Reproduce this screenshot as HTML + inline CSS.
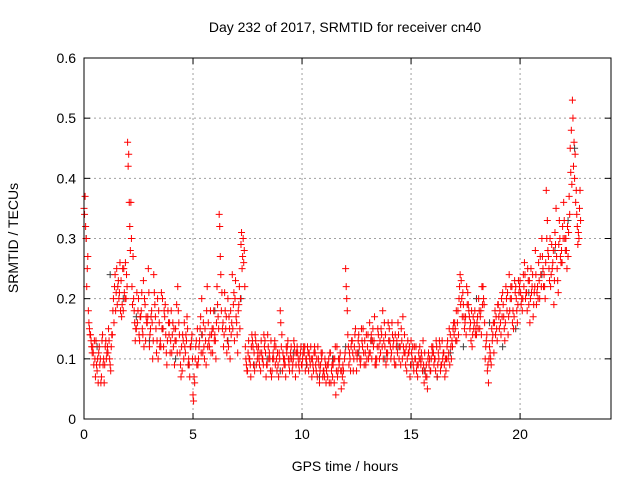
<!DOCTYPE html>
<html><head><meta charset="utf-8"><style>
body{margin:0;background:#fff}
svg text{font-family:"Liberation Sans",sans-serif;font-size:14px;fill:#000}
</style></head><body>
<svg id="chart" width="640" height="480" xmlns="http://www.w3.org/2000/svg">
<rect width="640" height="480" fill="#fff"/>
<text x="345" y="32" text-anchor="middle">Day 232 of 2017, SRMTID for receiver cn40</text>
<text x="345" y="471" text-anchor="middle">GPS time / hours</text>
<text transform="translate(18,238) rotate(-90)" text-anchor="middle">SRMTID / TECUs</text>
<g id="grid"></g>
<g id="ticks"></g>
<g id="gray"></g>
<g id="red"></g>
<rect x="84" y="58" width="527" height="361" fill="none" stroke="#000" stroke-width="1"/>
</svg>
<script>
const xTicks=[0,5,10,15,20];
const yTicks=[0,0.1,0.2,0.3,0.4,0.5,0.6];
const yTickLabels=["0","0.1","0.2","0.3","0.4","0.5","0.6"];
const seriesA=[.35,.30,.18,.14,.12,.10,.08,.12,.07,.10,.13,.11,.09,.14,.22,.25,.20,.23,.18,.26,.46,.32,.22,.18,.15,.20,.17,.14,.19,.16,.12,.18,.24,.15,.10,.13,.20,.17,.09,.14,.18,.12,.15,.22,.11,.08,.16,.13,.10,.12,.04,.10,.15,.13,.20,.12,.09,.16,.18,.11,.14,.22,.34,.18,.12,.15,.20,.10,.24,.13,.16,.19,.29,.30,.12,.08,.10,.14,.11,.09,.12,.08,.10,.13,.09,.11,.07,.10,.12,.09,.18,.08,.10,.11,.09,.12,.10,.07,.11,.10,.09,.11,.10,.08,.12,.09,.11,.07,.06,.10,.08,.06,.09,.11,.07,.10,.12,.09,.05,.08,.25,.14,.10,.13,.12,.08,.14,.10,.15,.11,.12,.16,.10,.13,.09,.14,.11,.18,.12,.10,.15,.11,.13,.09,.16,.12,.10,.14,.08,.11,.13,.09,.10,.07,.12,.10,.06,.09,.11,.08,.12,.10,.07,.13,.09,.11,.08,.10,.14,.12,.16,.13,.20,.23,.19,.17,.21,.15,.12,.16,.14,.20,.18,.22,.10,.08,.12,.15,.11,.17,.19,.16,.21,.13,.18,.24,.20,.15,.22,.19,.23,.18,.26,.21,.19,.25,.17,.28,.22,.20,.30,.24,.38,.27,.22,.26,.31,.25,.33,.28,.36,.30,.27,.45,.53,.40,.34,.30];
const seriesB=[.37,.25,.15,.12,.09,.13,.06,.10,.14,.09,.11,.13,.12,.20,.18,.22,.26,.19,.21,.24,.44,.36,.27,.13,.16,.13,.21,.12,.17,.25,.15,.10,.19,.13,.16,.21,.12,.14,.18,.11,.14,.09,.19,.16,.07,.13,.11,.15,.07,.14,.07,.13,.10,.17,.11,.15,.22,.12,.14,.18,.10,.17,.27,.15,.21,.11,.17,.14,.19,.23,.11,.15,.25,.28,.09,.13,.07,.12,.14,.10,.09,.11,.14,.07,.12,.08,.10,.13,.08,.11,.12,.10,.07,.13,.10,.08,.12,.11,.09,.12,.11,.08,.12,.10,.07,.11,.08,.10,.09,.07,.10,.09,.06,.08,.10,.04,.08,.11,.07,.10,.20,.09,.12,.08,.15,.11,.10,.13,.09,.14,.10,.13,.15,.09,.12,.10,.14,.13,.09,.16,.12,.14,.09,.13,.10,.15,.12,.09,.13,.07,.10,.12,.08,.11,.09,.13,.08,.05,.10,.12,.09,.13,.11,.08,.10,.07,.12,.15,.10,.16,.13,.18,.24,.17,.15,.22,.18,.13,.17,.14,.17,.15,.22,.19,.13,.06,.10,.14,.18,.13,.15,.20,.17,.22,.14,.20,.16,.23,.18,.21,.19,.24,.20,.25,.16,.22,.21,.19,.26,.24,.25,.20,.33,.23,.29,.19,.35,.21,.27,.32,.30,.25,.37,.48,.42,.36,.29,.38];
const seriesC=[.34,.22,.16,.13,.11,.07,.10,.09,.13,.06,.10,.15,.08,.18,.24,.19,.21,.17,.25,.20,.42,.28,.19,.16,.21,.14,.18,.23,.13,.17,.14,.16,.21,.11,.18,.12,.15,.19,.13,.16,.11,.15,.13,.18,.09,.14,.12,.17,.09,.13,.03,.12,.09,.15,.14,.10,.18,.13,.11,.15,.13,.19,.32,.21,.14,.17,.12,.18,.15,.20,.14,.22,.31,.26,.10,.11,.09,.13,.08,.12,.10,.13,.09,.11,.14,.10,.08,.12,.10,.07,.16,.11,.09,.12,.08,.10,.13,.09,.10,.11,.10,.12,.09,.11,.10,.08,.09,.12,.08,.11,.07,.08,.10,.06,.09,.12,.07,.10,.08,.06,.22,.12,.08,.11,.14,.10,.12,.15,.11,.09,.14,.11,.13,.17,.10,.12,.15,.10,.14,.11,.13,.16,.10,.12,.14,.09,.17,.11,.10,.12,.11,.08,.12,.09,.10,.08,.11,.07,.09,.10,.11,.08,.09,.12,.13,.09,.10,.11,.12,.15,.15,.16,.22,.20,.17,.14,.19,.16,.14,.18,.16,.18,.14,.20,.12,.09,.11,.13,.16,.15,.17,.14,.19,.16,.21,.18,.22,.17,.20,.23,.21,.20,.24,.18,.23,.21,.19,.24,.20,.27,.27,.22,.30,.25,.24,.28,.29,.23,.30,.26,.33,.28,.31,.41,.50,.44,.32,.35];
const seriesD=[.32,.27,.14,.11,.13,.09,.11,.06,.09,.12,.12,.10,.14,.16,.21,.23,.18,.25,.20,.22,.36,.30,.20,.15,.18,.17,.15,.20,.16,.21,.17,.13,.17,.20,.12,.15,.18,.11,.16,.13,.16,.13,.11,.14,.12,.10,.14,.09,.12,.10,.06,.09,.12,.11,.16,.13,.12,.14,.15,.13,.16,.15,.24,.16,.18,.13,.15,.16,.21,.17,.18,.20,.27,.22,.08,.10,.12,.09,.13,.11,.11,.10,.12,.09,.10,.13,.11,.09,.11,.10,.14,.09,.12,.10,.11,.09,.11,.12,.08,.09,.12,.10,.11,.09,.10,.12,.10,.09,.11,.08,.09,.07,.11,.09,.06,.08,.10,.08,.09,.11,.18,.11,.13,.10,.11,.13,.09,.12,.13,.10,.11,.14,.12,.10,.15,.13,.12,.16,.11,.13,.10,.12,.14,.11,.12,.13,.11,.12,.11,.09,.12,.10,.09,.10,.11,.09,.07,.10,.08,.11,.10,.12,.10,.09,.11,.10,.13,.09,.13,.14,.18,.14,.19,.21,.16,.19,.17,.18,.15,.15,.15,.17,.19,.16,.14,.10,.09,.16,.14,.19,.18,.17,.15,.20,.17,.22,.18,.21,.16,.22,.20,.22,.21,.23,.20,.24,.22,.21,.23,.22,.22,.26,.28,.30,.25,.23,.27,.29,.26,.30,.28,.32,.34,.39,.46,.38,.31,.33];
const grayT=[0.1,0.6,1.2,1.8,2.4,3.0,3.6,4.2,4.8,5.4,6.0,6.6,7.2,7.8,8.4,9.0,9.6,10.2,10.8,11.4,12.0,12.6,13.2,13.8,14.4,15.0,15.6,16.2,16.8,17.4,18.0,18.6,19.2,19.8,20.4,21.0,21.6,22.2,22.5];
const grayV=[.30,.12,.24,.20,.17,.13,.15,.10,.09,.14,.18,.13,.20,.09,.10,.08,.11,.09,.07,.10,.12,.11,.13,.10,.12,.09,.08,.07,.11,.12,.20,.16,.12,.15,.21,.24,.28,.33,.45];
const X0=84,X1=611,XMAX=24.17,Y0=419,Y1=58,YMAX=0.6;
const xs=v=>X0+v/XMAX*(X1-X0);
const ys=v=>Y0-v/YMAX*(Y0-Y1);
const NS="http://www.w3.org/2000/svg";
function mk(tag,attrs,parent){const e=document.createElementNS(NS,tag);for(const k in attrs)e.setAttribute(k,attrs[k]);parent.appendChild(e);return e;}
const grid=document.getElementById('grid'),ticks=document.getElementById('ticks');
xTicks.forEach(t=>{const x=xs(t);
 if(t>0){const g=mk('line',{x1:x,x2:x,y1:Y1,y2:Y0,stroke:'#a0a0a0','stroke-dasharray':'2,3'},grid);
 
 }
 mk('line',{x1:x,x2:x,y1:Y0,y2:Y0-6,stroke:'#000'},ticks);mk('line',{x1:x,x2:x,y1:Y1,y2:Y1+6,stroke:'#000'},ticks);
 const l=mk('text',{x:x,y:Y0+20,'text-anchor':'middle'},ticks);l.textContent=t;
 
 });
yTicks.forEach((t,i)=>{const y=ys(t);
 if(t>0&&t<YMAX){const g=mk('line',{x1:X0,x2:X1,y1:y,y2:y,stroke:'#a0a0a0','stroke-dasharray':'2,3'},grid);
 
 }
 mk('line',{x1:X0,x2:X0+6,y1:y,y2:y,stroke:'#000'},ticks);mk('line',{x1:X1,x2:X1-6,y1:y,y2:y,stroke:'#000'},ticks);
 const l=mk('text',{x:X0-8,y:y+5,'text-anchor':'end'},ticks);l.textContent=yTickLabels[i];
 
 });
function plus(g,t,v,col){const x=xs(t),y=ys(v);
 const p=mk('path',{d:`M${x-3.5},${y}h7M${x},${y-3.5}v7`,stroke:col,'stroke-width':1,fill:'none'},g);
 
 }
const gg=document.getElementById('gray'),rg=document.getElementById('red');
grayT.forEach((t,i)=>plus(gg,t,grayV[i],'#404040'));
seriesA.forEach((v,i)=>plus(rg,i*0.1,v,'#ff0000'));
seriesB.forEach((v,i)=>plus(rg,i*0.1+0.05,v,'#ff0000'));
seriesC.forEach((v,i)=>plus(rg,i*0.1+0.025,v,'#ff0000'));
seriesD.forEach((v,i)=>plus(rg,i*0.1+0.075,v,'#ff0000'));
</script>
</body></html>
